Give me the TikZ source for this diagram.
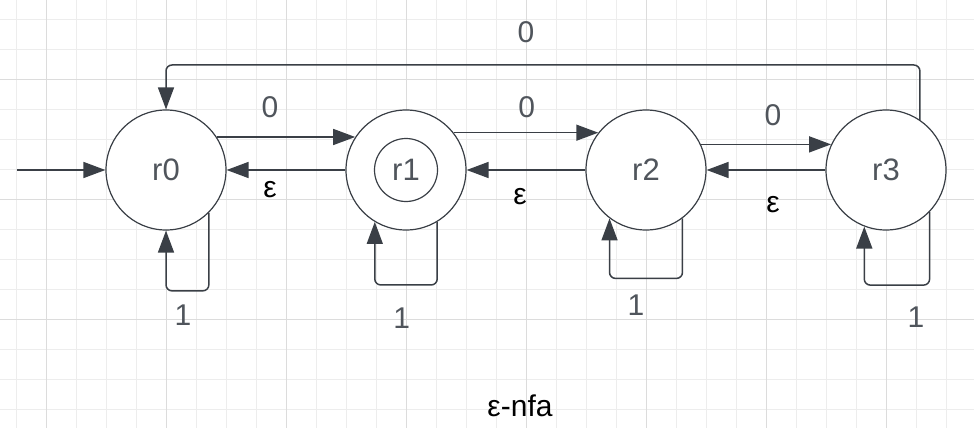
\documentclass[tikz,border=0pt]{standalone}
\usepackage{fontspec}
\setmainfont{Liberation Sans}
\usetikzlibrary{arrows.meta}
\definecolor{linegray}{HTML}{3A3F46}
\definecolor{textgray}{HTML}{50555C}
\definecolor{gridminor}{HTML}{EDEDED}
\definecolor{gridmajor}{HTML}{DCDCDC}

\begin{document}
\begin{tikzpicture}[x=1pt,y=-1pt,
		state/.style={circle,draw=linegray,line width=1.2pt,fill=white,minimum size=120pt,inner sep=0pt,text=textgray,font=\fontsize{31}{31}\selectfont},
		edge/.style={-{Triangle[length=22pt,width=16pt]},line width=1.5pt,color=linegray,rounded corners=6pt},
		lbl/.style={text=textgray,font=\fontsize{30}{30}\selectfont},
		eps/.style={text=black,font=\fontsize{30}{30}\selectfont}]
		\useasboundingbox[fill=white] (0,0) rectangle (974,428);
		% background grid
		\foreach \x in {16.7,46.7,...,976} \draw[gridminor,line width=0.8pt] (\x,0) -- (\x,428);
		\foreach \y in {19.3,49.3,...,428} \draw[gridminor,line width=0.8pt] (0,\y) -- (974,\y);
		\foreach \x in {46.7,166.7,...,976} \draw[gridmajor,line width=0.8pt] (\x,0) -- (\x,428);
		\foreach \y in {79.3,199.3,319.3} \draw[gridmajor,line width=0.8pt] (0,\y) -- (974,\y);
		% states
		\node[state] (r0) at (166,170){r0};
		\node[state] (r1) at (406,170){r1};
		\node[state] (r2) at (646,170){r2};
		\node[state] (r3) at (886,170){r3};
		\draw[linegray,line width=1.2pt] (r1) circle (31.5pt);
		\coordinate (start) at (16.7,170);
		\coordinate (top) at (526,65);
		% transitions
		\draw[edge] (start) -- (r0.west);
		\draw[edge] (r0.33) -- (r1.147);
		\draw[edge] (r1.west) -- (r0.east);
		\draw[edge] (r1.38) -- (r2.142);
		\draw[edge] (r2.west) -- (r1.east);
		\draw[edge] (r2.25) -- (r3.155);
		\draw[edge] (r3.west) -- (r2.east);
		\draw[edge] (r3.56) |- (top) -| (r0.north);
		\draw[edge] (r0.-45) -- ++(0,78) -| (r0.south);
		\draw[edge] (r1.-59) -- ++(0,63) -| (r1.-121);
		\draw[edge] (r2.-53) -- ++(0,60) -| (r2.-127);
		\draw[edge] (r3.-44) -- ++(0,73) -| (r3.-111);
		% labels
		\node[lbl] (l01) at (270,106.7){0};
		\node[lbl] (l12) at (526.7,106.7){0};
		\node[lbl] (l23) at (773,115){0};
		\node[lbl] (l30) at (526,32){0};
		\node[eps] (e10) at (270,190){ε};
		\node[eps] (e21) at (520,196.7){ε};
		\node[eps] (e32) at (773,205){ε};
		\node[lbl] (s0) at (183,315){1};
		\node[lbl] (s1) at (401.7,318){1};
		\node[lbl] (s2) at (636,305){1};
		\node[lbl] (s3) at (916,316.7){1};
		\node[eps] (cap) at (520,406){ε-nfa};
\end{tikzpicture}
\end{document}
